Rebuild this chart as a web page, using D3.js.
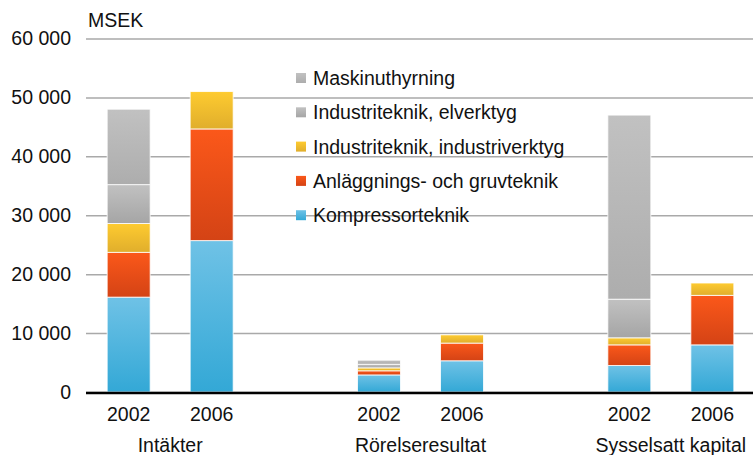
<!DOCTYPE html>
<html>
<head>
<meta charset="utf-8">
<script src="https://cdn.jsdelivr.net/npm/d3@7"></script>
<style>
  body { margin: 0; background: #fff; }
  svg { display: block; font-family: "Liberation Sans", Arial, Helvetica, sans-serif; }
  .axis--y .domain { display: none; }
  .axis--y line { stroke: #a9a9a9; stroke-width: 1.5; }
  .axis--y text { font-size: 19.5px; fill: #111; }
  .lbl { font-size: 19.5px; fill: #111; }
</style>
</head>
<body>
<svg id="chart" width="753" height="455"></svg>
<script>
// data (MSEK)
var groups = ["Intäkter", "Rörelseresultat", "Sysselsatt kapital"];
var years = ["2002", "2006"];
var seriesNames = [
    "Kompressorteknik",
    "Anläggnings- och gruvteknik",
    "Industriteknik, industriverktyg",
    "Industriteknik, elverktyg",
    "Maskinuthyrning"
];
// one value per bar: Intäkter 02, 06, Rörelse 02, 06, Sysselsatt 02, 06
var kompressor   = [16100, 25700, 2900, 5300, 4500, 8000];
var anlaggning   = [ 7600, 18950,  700, 3000, 3500, 8400];
var industriverk = [ 4900,  6350,  500, 1400, 1200, 2100];
var elverktyg    = [ 6600,     0,  600,    0, 6550,    0];
var maskin       = [12800,     0,  700,    0, 31250,   0];
var yTicks = [0, 10000, 20000, 30000, 40000, 50000, 60000];

var colors = {
    "Kompressorteknik": ["#6fc2e6", "#33a8d6"],
    "Anläggnings- och gruvteknik": ["#fb581a", "#d44315"],
    "Industriteknik, industriverktyg": ["#fecb30", "#e0ae2c"],
    "Industriteknik, elverktyg": ["#c1c1c1", "#a5a5a5"],
    "Maskinuthyrning": ["#c1c1c1", "#adadad"]
};

var values = [kompressor, anlaggning, industriverk, elverktyg, maskin];
var rows = [];
groups.forEach(function(g, gi) {
    years.forEach(function(yr, yi) {
        var i = gi * 2 + yi, row = {group: g, year: yr};
        seriesNames.forEach(function(s, si) { row[s] = values[si][i]; });
        rows.push(row);
    });
});

var svg = d3.select("#chart");
var left = 86, right = 753;

var y = d3.scaleLinear().domain([0, 60000]).range([392, 38.5]);

var x0 = d3.scaleBand().domain(groups).range([45, 796]);
var x1 = d3.scaleBand().domain(years).range([0, x0.bandwidth()])
    .paddingInner(0.482).paddingOuter(0.749);

var defs = svg.append("defs");
seriesNames.forEach(function(s, i) {
    var grad = defs.append("linearGradient")
        .attr("id", "grad" + i)
        .attr("x1", 0).attr("y1", 0).attr("x2", 0).attr("y2", 1);
    grad.append("stop").attr("offset", "0%").attr("stop-color", colors[s][0]);
    grad.append("stop").attr("offset", "100%").attr("stop-color", colors[s][1]);
});

var fmt = function(v) { return d3.format(",")(v).replace(/,/g, " "); };

var yAxis = d3.axisLeft(y)
    .tickValues(yTicks)
    .tickSizeInner(-(right - left))
    .tickSizeOuter(0)
    .tickPadding(15)
    .tickFormat(fmt);

svg.append("g")
    .attr("class", "axis axis--y")
    .attr("transform", "translate(" + left + ",0)")
    .call(yAxis);

svg.append("text")
    .attr("class", "lbl")
    .attr("x", 88).attr("y", 27)
    .text("MSEK");

var stack = d3.stack().keys(seriesNames);
var stacked = stack(rows);

var layer = svg.append("g").selectAll("g")
    .data(stacked)
    .enter().append("g")
    .attr("fill", function(d, i) { return "url(#grad" + i + ")"; });

layer.selectAll("rect")
    .data(function(d) { return d.filter(function(p) { return p[1] > p[0]; }); })
    .enter().append("rect")
    .attr("x", function(d) { return x0(d.data.group) + x1(d.data.year); })
    .attr("width", x1.bandwidth())
    .attr("y", function(d) { return y(d[1]); })
    .attr("height", function(d) { return y(d[0]) - y(d[1]); })
    .attr("stroke", "#fff")
    .attr("stroke-opacity", 0.8)
    .attr("stroke-width", 1);

// baseline
svg.append("line")
    .attr("x1", left).attr("x2", right)
    .attr("y1", y(0) + 1).attr("y2", y(0) + 1)
    .attr("stroke", "#000").attr("stroke-width", 2.5);

// x labels
var xg = svg.append("g");
rows.forEach(function(r) {
    xg.append("text")
        .attr("class", "lbl")
        .attr("text-anchor", "middle")
        .attr("x", x0(r.group) + x1(r.year) + x1.bandwidth() / 2)
        .attr("y", 421)
        .text(r.year);
});
groups.forEach(function(g) {
    xg.append("text")
        .attr("class", "lbl")
        .attr("text-anchor", "middle")
        .attr("x", x0(g) + x0.bandwidth() / 2)
        .attr("y", 452)
        .text(g);
});

// legend, top series first
var legendOrder = seriesNames.slice().reverse();
var legend = svg.append("g").attr("transform", "translate(296,78)");
legendOrder.forEach(function(s, i) {
    var gi = seriesNames.indexOf(s);
    var row = legend.append("g").attr("transform", "translate(0," + (i * 34.3) + ")");
    row.append("rect")
        .attr("x", 0).attr("y", -5)
        .attr("width", 10).attr("height", 10)
        .attr("fill", "url(#grad" + gi + ")");
    row.append("text")
        .attr("class", "lbl")
        .attr("x", 17).attr("y", 7)
        .text(s);
});
</script>
</body>
</html>
